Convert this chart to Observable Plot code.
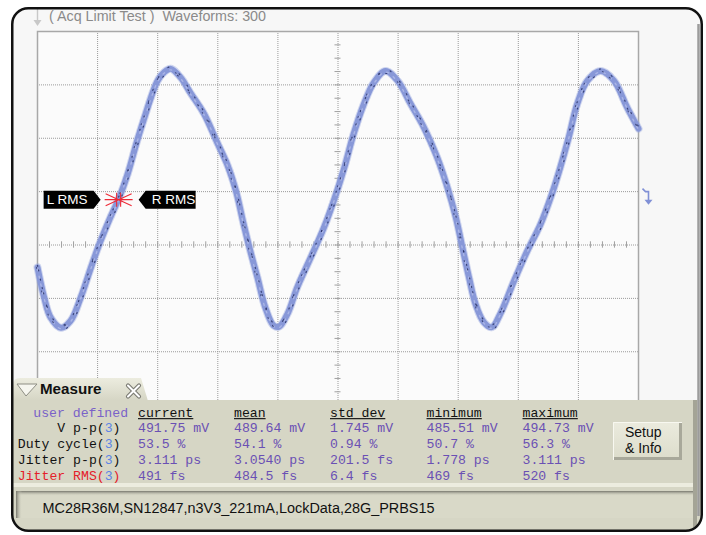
<!DOCTYPE html>
<html><head><meta charset="utf-8">
<script src="https://cdn.jsdelivr.net/npm/d3@7"></script>
<script src="https://cdn.jsdelivr.net/npm/@observablehq/plot@0.6"></script>
<style>
html,body{margin:0;padding:0;background:#fff;}
#wrap{position:relative;width:706px;height:535px;overflow:hidden;}
#under,#plot,#over{position:absolute;left:0;top:0;}
.mono{font-family:"Liberation Mono","DejaVu Sans Mono",monospace;font-size:13.17px;}
.sans{font-family:"Liberation Sans",Arial,sans-serif;}
</style></head>
<body><div id="wrap">
<svg id="under" width="706" height="535"><rect x="12" y="8" width="690" height="523" rx="16" fill="#f7f7f7"/></svg>
<div id="plot"></div>
<svg id="over" width="706" height="535"></svg>
</div>
<script>
// ---- waveform data (time in ps, 10 ps/div; voltage in mV, 100 mV/div) ----
const waveT = [0,1.1,2.2,3.9,5.5,7.2,8.9,10.3,11.9,13.6,15.0,16.6,17.8,18.9,20.0,21.1,22.2,23.8,25.5,27.7,29.9,31.6,33.0,34.3,35.4,36.6,37.9,39.3,40.2,41.6,43.2,45.4,47.6,49.3,51.0,52.6,54.3,56.0,57.9,59.9,62.1,64.3,66.5,68.2,69.6,70.7,71.8,72.9,74.3,75.6,77.0,79.3,81.5,83.7,85.6,87.0,88.4,89.8,91.5,93.7,95.9,98.1,100];
const waveV = [-42,-98,-136,-155,-142,-98,-42,2,46,89,133,196,239,277,308,324,330,314,284,246,192,150,102,39,-11,-61,-117,-151,-153,-129,-80,-25,31,83,143,208,264,305,326,308,264,220,164,108,52,-5,-61,-111,-145,-154,-129,-67,-11,39,96,146,202,264,308,326,308,258,218];
// grid
const xGrid = [10,20,30,40,50,60,70,80,90];
const yGrid = [-300,-200,-100,0,100,200,300];
const xMinor = d3.range(0, 101, 2);
const yMinor = d3.range(-400, 401, 25);
// cursor marker
const markerT = [13.5];
const markerV = [85];
const markerLabels = ["L RMS", "R RMS"];
const channelRef = [100];
// text
const titleText = "( Acq Limit Test )\u00a0 Waveforms: 300";
const statusText = "MC28R36M,SN12847,n3V3_221mA,LockData,28G_PRBS15";
const statCols = ["current","mean","std dev","minimum","maximum"];
const rowNames = ["V p-p","Duty cycle","Jitter p-p","Jitter RMS"];
const rowSource = ["3","3","3","3"];
const current = ["491.75 mV","53.5 %","3.111 ps","491 fs"];
const mean = ["489.64 mV","54.1 %","3.0540 ps","484.5 fs"];
const stdDev = ["1.745 mV","0.94 %","201.5 fs","6.4 fs"];
const minimum = ["485.51 mV","50.7 %","1.778 ps","469 fs"];
const maximum = ["494.73 mV","56.3 %","3.111 ps","520 fs"];

const wave = waveT.map((t,i)=>({t, v: waveV[i]}));
const markers = markerT.map((t,i)=>({t, v: markerV[i]}));

const starSym = {draw(c){c.moveTo(-14,0);c.lineTo(14,0);c.moveTo(-13,-6);c.lineTo(13,6);c.moveTo(-13,6);c.lineTo(13,-6);c.moveTo(-2,-7);c.lineTo(-2,7);c.moveTo(2,-7);c.lineTo(2,7);}};
const leftTag = {draw(c){c.moveTo(-75,-9);c.lineTo(-25,-9);c.lineTo(-18,0);c.lineTo(-25,9);c.lineTo(-75,9);c.closePath();}};
const rightTag = {draw(c){c.moveTo(20,0);c.lineTo(27,-9);c.lineTo(77,-9);c.lineTo(77,9);c.lineTo(27,9);c.closePath();}};
const hookSym = {draw(c){c.moveTo(4,-3);c.lineTo(7,0);c.lineTo(10,0);c.lineTo(10,9);}};
const headSym = {draw(c){c.moveTo(6,8);c.lineTo(14,8);c.lineTo(10,13);c.closePath();}};

const lineOpts = {x: "t", y: "v", curve: "catmull-rom"};
const plot = Plot.plot({
  width: 706, height: 535,
  marginLeft: 37, marginRight: 68, marginTop: 31, marginBottom: 77,
  x: {domain: [0,100], axis: null},
  y: {domain: [-400,400], axis: null},
  style: {background: "transparent", overflow: "visible"},
  marks: [
    Plot.frame({fill: "#fbfbfb", stroke: "none"}),
    Plot.ruleX(xGrid, {stroke: "#9a9a9a", strokeDasharray: "1,1"}),
    Plot.ruleY(yGrid, {stroke: "#9a9a9a", strokeDasharray: "1,1"}),
    Plot.ruleX(xMinor, {x: d=>d, y1: -6, y2: 6, stroke: "#a0a0a0"}),
    Plot.ruleY(yMinor, {y: d=>d, x1: 49.5, x2: 50.5, stroke: "#a0a0a0"}),
    Plot.frame({stroke: "#a8a8a8", strokeWidth: 1.5}),
    Plot.line(wave, {...lineOpts, stroke: "#9aa8e0", strokeWidth: 8, strokeOpacity: 0.45, strokeDasharray: "3,2"}),
    Plot.line(wave, {...lineOpts, stroke: "#8898d8", strokeWidth: 6, strokeLinejoin: "round"}),
    Plot.line(wave, {...lineOpts, stroke: "#aab5e6", strokeWidth: 1.4, strokeDasharray: "2,6", dy: 1}),
    Plot.line(wave, {...lineOpts, stroke: "#262e62", strokeWidth: 1.2, strokeOpacity: 0.8, strokeDasharray: "1,13", dy: -2}),
    Plot.line(wave, {...lineOpts, stroke: "#262e62", strokeWidth: 1.2, strokeOpacity: 0.8, strokeDasharray: "1,17", dy: 2.5, dx: 1}),
    Plot.line(wave, {...lineOpts, stroke: "#262e62", strokeWidth: 1.1, strokeOpacity: 0.7, strokeDasharray: "1,23", dx: -1}),
    Plot.dot(markers, {x: "t", y: "v", symbol: leftTag, fill: "#000", stroke: "none"}),
    Plot.dot(markers, {x: "t", y: "v", symbol: rightTag, fill: "#000", stroke: "none"}),
    Plot.text(markers, {x: "t", y: "v", text: () => markerLabels[0], dx: -72, textAnchor: "start", fill: "#fff", fontSize: 13.5, fontFamily: "Liberation Sans, Arial, sans-serif"}),
    Plot.text(markers, {x: "t", y: "v", text: () => markerLabels[1], dx: 33, textAnchor: "start", fill: "#fff", fontSize: 13.5, fontFamily: "Liberation Sans, Arial, sans-serif"}),
    Plot.dot(markers, {x: "t", y: "v", symbol: starSym, fill: "none", stroke: "#ee2a36", strokeWidth: 1.1}),
    Plot.dot(channelRef, {x: 100, y: d=>d, symbol: hookSym, fill: "none", stroke: "#8090d6", strokeWidth: 1.6}),
    Plot.dot(channelRef, {x: 100, y: d=>d, symbol: headSym, fill: "#8090d6", stroke: "none"})
  ]
});
document.getElementById("plot").appendChild(plot);

// ---- chrome: measurement panel, title, frame ----
const W = 7.9;
const colX = [138, 234, 330, 426.5, 522.5];
const headY = 416.5;
const rowY = [431.5, 447.5, 463.5, 479.5];
const purple = "#6a50b4", blue3 = "#5d84e6", red = "#e4202a";
const cols = [current, mean, stdDev, minimum, maximum];
let s = `<defs>
<clipPath id="scr"><rect x="12" y="8" width="690" height="523" rx="16"/></clipPath>
<linearGradient id="tabG" x1="0" y1="0" x2="0" y2="1"><stop offset="0" stop-color="#ececdf"/><stop offset="1" stop-color="#d5d5c4"/></linearGradient>
<linearGradient id="shT" x1="0" y1="0" x2="0" y2="1"><stop offset="0" stop-color="#76766c"/><stop offset="1" stop-color="#d9d9c8" stop-opacity="0"/></linearGradient>
<linearGradient id="shL" x1="0" y1="0" x2="1" y2="0"><stop offset="0" stop-color="#76766c"/><stop offset="1" stop-color="#d9d9c8" stop-opacity="0"/></linearGradient>
<linearGradient id="btnG" x1="0" y1="0" x2="0" y2="1"><stop offset="0" stop-color="#ebebde"/><stop offset="1" stop-color="#dcdccb"/></linearGradient>
</defs>
<g clip-path="url(#scr)">
<text class="sans" x="49" y="20.5" font-size="14" fill="#8a8a8a" textLength="217" lengthAdjust="spacingAndGlyphs">${titleText}</text>
<line x1="37.5" y1="6" x2="37.5" y2="22" stroke="#c8c8c8" stroke-width="1.4"/>
<path d="M33.5,20 L41.5,20 L37.5,26 Z" fill="#c8c8c8"/>
<path d="M13,401 L13,385 Q13,378 20,378 L141,378 L148,401 Z" fill="url(#tabG)"/>
<rect x="13" y="400" width="690" height="132" fill="#d6d6c5"/>
<rect x="693" y="400" width="4" height="132" fill="#a4a496"/>
<rect x="13" y="483" width="680" height="4" fill="#ececdf"/>
<rect x="16" y="491" width="677" height="27" fill="#d9d9c8"/>
<rect x="16" y="491" width="677" height="5" fill="url(#shT)"/>
<rect x="16" y="491" width="6" height="27" fill="url(#shL)"/>
<text class="sans" x="42.5" y="512.5" font-size="14" fill="#111" textLength="392" lengthAdjust="spacingAndGlyphs">${statusText}</text>
<path d="M17,384 L37,384 L26,396 Z" fill="#f6f6ef" stroke="#8e8e84" stroke-width="1"/>
<text class="sans" x="40" y="393.5" font-size="14" font-weight="bold" fill="#111" textLength="61.5" lengthAdjust="spacingAndGlyphs">Measure</text>
<path d="M128,385.5 L139,396.5 M139,385.5 L128,396.5" stroke="#7a7a72" stroke-width="4.2" stroke-linecap="round"/>
<path d="M128,385.5 L139,396.5 M139,385.5 L128,396.5" stroke="#ffffff" stroke-width="2" stroke-linecap="round"/>
<text class="mono" x="33.3" y="${headY}" fill="#7a62c8">user defined</text>`;
statCols.forEach((h,j)=>{
  s += `<text class="mono" x="${colX[j]}" y="${headY}" fill="#111" xml:space="preserve">${h}</text>`;
  s += `<line x1="${colX[j]}" x2="${colX[j]+h.length*W}" y1="418.6" y2="418.6" stroke="#222" stroke-width="1.3"/>`;
});
rowNames.forEach((n,i)=>{
  const c = i === 3 ? red : "#111";
  s += `<text class="mono" x="120.5" y="${rowY[i]}" text-anchor="end" xml:space="preserve"><tspan fill="${c}">${n}(</tspan><tspan fill="${blue3}">${rowSource[i]}</tspan><tspan fill="${c}">)</tspan></text>`;
  cols.forEach((col,j)=>{
    s += `<text class="mono" x="${colX[j]}" y="${rowY[i]}" fill="${purple}" xml:space="preserve">${col[i]}</text>`;
  });
});
s += `<rect x="613" y="422" width="69" height="38" fill="url(#btnG)"/>
<path d="M613.5,460 L613.5,422.5 L682,422.5" fill="none" stroke="#f8f8f0" stroke-width="1"/>
<path d="M680.5,423 L680.5,458.5 L614,458.5" fill="none" stroke="#a8a89a" stroke-width="3"/>
<text class="sans" x="625" y="437.3" font-size="14" fill="#111">Setup</text>
<text class="sans" x="625" y="453.3" font-size="14" fill="#111">&amp; Info</text>
</g>
<line x1="698.5" y1="24" x2="698.5" y2="516" stroke="#9c9c9c" stroke-width="2.5"/>
<rect x="12.25" y="8.25" width="689.5" height="522.5" rx="16" fill="none" stroke="#111" stroke-width="2.5"/>`;
document.getElementById("over").innerHTML = s;
</script>
</body></html>
